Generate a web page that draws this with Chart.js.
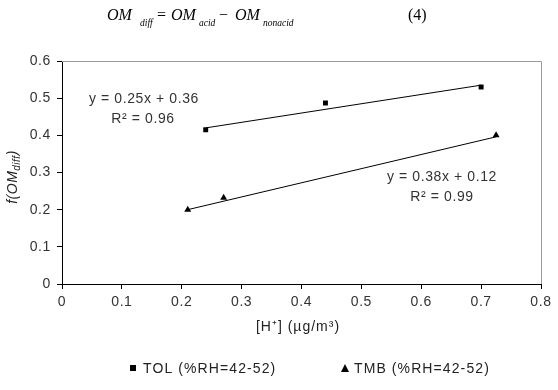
<!DOCTYPE html>
<html><head><meta charset="utf-8">
<script src="https://cdn.jsdelivr.net/npm/chart.js@4/dist/chart.umd.min.js"></script>
<style>
html,body{margin:0;padding:0;background:#fff;}
#wrap{position:relative;width:558px;height:390px;}
canvas{position:absolute;left:0;top:0;}
#eq{position:absolute;left:0;top:0;width:558px;height:40px;font-family:"Liberation Serif","Times New Roman",serif;font-size:16px;color:#000;}
#eq span{position:absolute;top:7px;white-space:nowrap;line-height:1;}
#eq span.s{top:19px;font-size:9.5px;}
</style></head>
<body><div id="wrap">
<canvas id="c" width="558" height="390"></canvas>
<div id="eq">
<span style="left:107px"><i>OM</i></span><span class="s" style="left:140px"><i>diff</i></span>
<span style="left:157px">=</span>
<span style="left:171px"><i>OM</i></span><span class="s" style="left:199px"><i>acid</i></span>
<span style="left:219px">&minus;</span>
<span style="left:235px"><i>OM</i></span><span class="s" style="left:263px"><i>nonacid</i></span>
<span style="left:408px">(4)</span>
</div>
</div>
<script>
const tolX = [0.24, 0.44, 0.70];
const tolY = [0.415, 0.487, 0.530];
const tmbX = [0.21, 0.27, 0.725];
const tmbY = [0.200, 0.232, 0.400];
const tolTrendX = [0.24, 0.70];
const tolTrendY = [0.420, 0.535];
const tmbTrendX = [0.21, 0.725];
const tmbTrendY = [0.200, 0.396];
const seriesNames = ["TOL (%RH=42-52)", "TMB (%RH=42-52)"];
const tolEq = ["y = 0.25x + 0.36", "R² = 0.96"];
const tmbEq = ["y = 0.38x + 0.12", "R² = 0.99"];

const pts = (xs, ys) => xs.map((x, i) => ({x: x, y: ys[i]}));
const FONT = "'Liberation Sans', Arial, sans-serif";

const spacing = {
  id: 'spacing',
  beforeDraw(chart) { chart.ctx.letterSpacing = '0.6px'; }
};

const extras = {
  id: 'extras',
  afterDraw(chart) {
    const ctx = chart.ctx, a = chart.chartArea;
    ctx.save();
    // top & right frame
    ctx.strokeStyle = '#9a9a9a'; ctx.lineWidth = 1;
    ctx.beginPath();
    ctx.moveTo(a.left, a.top + 0.5); ctx.lineTo(a.right + 0.5, a.top + 0.5); ctx.lineTo(a.right + 0.5, a.bottom);
    ctx.stroke();
    // equations
    ctx.letterSpacing = '0.6px';
    ctx.fillStyle = '#333'; ctx.font = '14px ' + FONT; ctx.textAlign = 'center'; ctx.textBaseline = 'middle';
    ctx.fillText(tolEq[0], 144, 99);
    ctx.fillText(tolEq[1], 143, 119);
    ctx.fillText(tmbEq[0], 442, 177);
    ctx.fillText(tmbEq[1], 442, 197);
    // x title
    ctx.fillStyle = '#222';
    ctx.letterSpacing = '1px';
    ctx.fillText('[H⁺] (µg/m³)', 298, 327);
    // y title
    ctx.save();
    ctx.translate(13, 177); ctx.rotate(-Math.PI / 2);
    ctx.letterSpacing = '0.5px';
    ctx.font = 'italic 14px ' + FONT;
    const p1 = 'f(OM', p2 = 'diff', p3 = ')';
    const w1 = ctx.measureText(p1).width;
    ctx.font = 'italic 10px ' + FONT;
    const w2 = ctx.measureText(p2).width;
    ctx.font = 'italic 14px ' + FONT;
    const w3 = ctx.measureText(p3).width;
    let x0 = -(w1 + w2 + w3) / 2;
    ctx.textAlign = 'left';
    ctx.fillText(p1, x0, 0);
    ctx.font = 'italic 10px ' + FONT; ctx.fillText(p2, x0 + w1, 4);
    ctx.font = 'italic 14px ' + FONT; ctx.fillText(p3, x0 + w1 + w2, 0);
    ctx.restore();
    // legend
    ctx.fillStyle = '#000';
    ctx.fillRect(130, 365, 6, 6);
    ctx.beginPath(); ctx.moveTo(345, 364); ctx.lineTo(349, 372); ctx.lineTo(341, 372); ctx.closePath(); ctx.fill();
    ctx.fillStyle = '#222'; ctx.font = '14px ' + FONT; ctx.textAlign = 'left';
    ctx.letterSpacing = '1.1px';
    ctx.fillText(seriesNames[0], 143, 369);
    ctx.fillText(seriesNames[1], 354, 369);
    ctx.restore();
  }
};

new Chart(document.getElementById('c'), {
  type: 'scatter',
  data: {
    datasets: [
      {label: 'TOL trend', data: pts(tolTrendX, tolTrendY), showLine: true, borderColor: '#000', borderWidth: 1, pointRadius: 0},
      {label: 'TMB trend', data: pts(tmbTrendX, tmbTrendY), showLine: true, borderColor: '#000', borderWidth: 1, pointRadius: 0},
      {label: seriesNames[0], data: pts(tolX, tolY), pointStyle: 'rect', pointRadius: 3.5, backgroundColor: '#000', borderColor: '#000', borderWidth: 0},
      {label: seriesNames[1], data: pts(tmbX, tmbY), pointStyle: 'triangle', pointRadius: 4, backgroundColor: '#000', borderColor: '#000', borderWidth: 0}
    ]
  },
  options: {
    responsive: false, animation: false,
    layout: {padding: {left: 0, right: 17, top: 61, bottom: 0}},
    plugins: {legend: {display: false}, tooltip: {enabled: false}},
    scales: {
      x: {
        type: 'linear', min: 0, max: 0.8,
        ticks: {stepSize: 0.1, color: '#333', font: {family: FONT, size: 14}, padding: 5, callback: v => +v.toFixed(1)},
        grid: {display: true, drawOnChartArea: false, drawTicks: true, tickLength: 5, color: '#000'},
        border: {color: '#000', width: 1},
        afterFit(s) { s.height = 106; }
      },
      y: {
        type: 'linear', min: 0, max: 0.6,
        ticks: {stepSize: 0.1, color: '#333', font: {family: FONT, size: 14}, padding: 6, callback: v => +v.toFixed(1)},
        grid: {display: true, drawOnChartArea: false, drawTicks: true, tickLength: 5, color: '#000'},
        border: {color: '#000', width: 1},
        afterFit(s) { s.width = 62; }
      }
    }
  },
  plugins: [spacing, extras]
});
</script>
</body></html>
